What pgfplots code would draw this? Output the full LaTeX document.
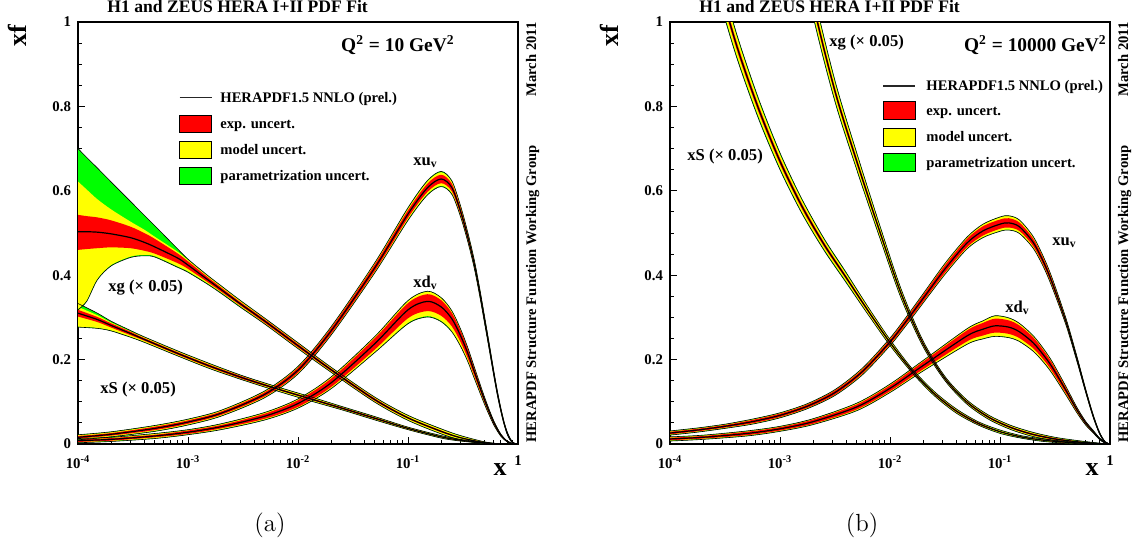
\documentclass[border=0pt]{standalone}
\usepackage{fontspec}
\usepackage{pgfplots}
\pgfplotsset{compat=1.18}
\usepackage{pgfplotstable}
\usepgfplotslibrary{fillbetween}
\newfontfamily\rf{Liberation Serif}
\definecolor{pred}{RGB}{255,0,0}
\definecolor{pyel}{RGB}{255,255,0}
\definecolor{pgrn}{RGB}{0,255,0}
\newcommand\tkfont{\rf\bfseries\fontsize{7.4}{8}\selectfont}
\newcommand\labfont{\rf\bfseries\fontsize{8.3}{10}\selectfont}
\newcommand\legfont{\rf\bfseries\fontsize{7.3}{9}\selectfont}
\newcommand\bigfont{\rf\bfseries\fontsize{13}{15}\selectfont}

\pgfplotstableread{
x c el eh ml mh tl th
0.0001 0.016 0.003 0.003 0.005 0.005 0.006 0.006
0.0002 0.023 0.003 0.003 0.005 0.005 0.006 0.006
0.0005 0.037 0.004 0.004 0.006 0.006 0.007 0.007
0.001 0.052 0.004 0.004 0.006 0.006 0.007 0.007
0.002 0.073 0.004 0.004 0.006 0.006 0.007 0.007
0.005 0.118 0.005 0.005 0.007 0.007 0.008 0.008
0.01 0.175 0.006 0.006 0.008 0.008 0.009 0.009
0.02 0.268 0.007 0.007 0.009 0.009 0.010 0.010
0.05 0.418 0.008 0.008 0.011 0.011 0.012 0.012
0.1 0.545 0.009 0.009 0.013 0.013 0.015 0.015
0.15 0.607 0.010 0.010 0.015 0.015 0.017 0.017
0.2 0.628 0.010 0.010 0.016 0.016 0.018 0.018
0.25 0.608 0.009 0.009 0.014 0.014 0.016 0.016
0.3 0.552 0.008 0.008 0.012 0.012 0.013 0.013
0.35 0.490 0.007 0.007 0.010 0.010 0.011 0.011
0.4 0.427 0.006 0.006 0.009 0.009 0.010 0.010
0.45 0.358 0.005 0.005 0.008 0.008 0.009 0.009
0.5 0.290 0.005 0.005 0.007 0.007 0.008 0.008
0.55 0.228 0.004 0.004 0.006 0.006 0.007 0.007
0.6 0.170 0.004 0.004 0.005 0.005 0.006 0.006
0.65 0.120 0.003 0.003 0.004 0.004 0.005 0.005
0.7 0.080 0.003 0.003 0.004 0.004 0.004 0.004
0.75 0.048 0.002 0.002 0.003 0.003 0.003 0.003
0.8 0.025 0.002 0.002 0.002 0.002 0.003 0.003
0.85 0.011 0.001 0.001 0.001 0.001 0.002 0.002
0.9 0.003 0.001 0.001 0.001 0.001 0.001 0.001
0.95 0.0005 0 0 0 0 0 0
1 0 0 0 0 0 0 0
}\xuvA
\pgfplotstableread{
x c el eh ml mh tl th
0.0001 0.008 0.003 0.003 0.004 0.004 0.005 0.005
0.0002 0.011 0.003 0.003 0.004 0.004 0.005 0.005
0.0005 0.019 0.003 0.003 0.005 0.005 0.006 0.006
0.001 0.028 0.004 0.004 0.005 0.005 0.006 0.006
0.002 0.041 0.004 0.004 0.006 0.006 0.007 0.007
0.005 0.066 0.006 0.006 0.008 0.008 0.009 0.009
0.01 0.096 0.008 0.008 0.010 0.010 0.011 0.011
0.02 0.145 0.010 0.010 0.013 0.013 0.014 0.014
0.05 0.238 0.014 0.013 0.020 0.016 0.021 0.017
0.1 0.318 0.020 0.016 0.031 0.021 0.033 0.022
0.15 0.338 0.023 0.017 0.035 0.023 0.037 0.024
0.2 0.325 0.021 0.016 0.033 0.021 0.035 0.022
0.25 0.297 0.018 0.014 0.029 0.018 0.031 0.019
0.3 0.257 0.015 0.012 0.024 0.015 0.025 0.016
0.35 0.215 0.012 0.010 0.019 0.012 0.020 0.013
0.4 0.172 0.010 0.008 0.015 0.010 0.016 0.011
0.5 0.102 0.006 0.005 0.009 0.006 0.010 0.007
0.6 0.052 0.004 0.003 0.005 0.004 0.006 0.004
0.7 0.021 0.002 0.002 0.003 0.002 0.003 0.002
0.8 0.006 0.001 0.001 0.001 0.001 0.001 0.001
0.9 0.001 0 0 0 0 0 0
1 0 0 0 0 0 0 0
}\xdvA
\pgfplotstableread{
x c el eh ml mh tl th
0.0001 0.503 0.043 0.040 0.183 0.119 0.185 0.197
0.00012 0.503 0.041 0.037 0.163 0.100 0.165 0.176
0.00015 0.502 0.038 0.035 0.111 0.078 0.113 0.152
0.0002 0.498 0.032 0.032 0.074 0.058 0.076 0.123
0.0003 0.489 0.025 0.026 0.045 0.038 0.047 0.086
0.0004 0.478 0.020 0.022 0.030 0.030 0.032 0.064
0.0005 0.467 0.016 0.019 0.022 0.024 0.024 0.050
0.0008 0.441 0.012 0.011 0.020 0.015 0.022 0.022
0.001 0.424 0.009 0.009 0.015 0.012 0.017 0.014
0.0015 0.390 0.006 0.006 0.009 0.009 0.011 0.010
0.002 0.366 0.005 0.005 0.007 0.008 0.009 0.009
0.003 0.332 0.004 0.004 0.006 0.007 0.008 0.008
0.005 0.291 0.004 0.004 0.006 0.006 0.007 0.007
0.01 0.233 0.004 0.004 0.006 0.006 0.007 0.007
0.02 0.176 0.003 0.003 0.005 0.005 0.006 0.006
0.05 0.105 0.003 0.003 0.005 0.005 0.006 0.006
0.1 0.062 0.002 0.002 0.005 0.005 0.006 0.006
0.2 0.030 0.002 0.002 0.005 0.005 0.006 0.006
0.3 0.015 0.001 0.001 0.004 0.004 0.005 0.005
0.5 0.003 0.001 0.001 0.002 0.002 0.002 0.002
0.7 0.0004 0 0 0 0 0 0
1 0 0 0 0 0 0 0
}\xgA
\pgfplotstableread{
x c el eh ml mh tl th
0.0001 0.310 0.008 0.008 0.032 0.015 0.033 0.023
0.00015 0.295 0.006 0.006 0.020 0.010 0.021 0.015
0.0002 0.281 0.005 0.005 0.012 0.007 0.013 0.010
0.0003 0.262 0.004 0.004 0.008 0.005 0.009 0.007
0.0004 0.248 0.003 0.003 0.006 0.005 0.007 0.006
0.0008 0.215 0.003 0.003 0.005 0.005 0.006 0.006
0.0016 0.184 0.003 0.003 0.005 0.005 0.006 0.006
0.0032 0.156 0.003 0.003 0.004 0.004 0.005 0.005
0.0064 0.131 0.002 0.002 0.004 0.004 0.005 0.005
0.013 0.107 0.002 0.002 0.004 0.004 0.005 0.005
0.025 0.085 0.002 0.002 0.003 0.003 0.004 0.004
0.05 0.061 0.002 0.002 0.003 0.003 0.004 0.004
0.1 0.037 0.001 0.001 0.003 0.003 0.003 0.003
0.2 0.017 0.001 0.001 0.002 0.002 0.003 0.003
0.3 0.009 0.001 0.001 0.002 0.002 0.002 0.002
0.5 0.0025 0 0 0.001 0.001 0.001 0.001
0.7 0.0004 0 0 0 0 0 0
1 0 0 0 0 0 0 0
}\xSA
\pgfplotstableread{
x c el eh ml mh tl th
0.0001 0.026 0.003 0.003 0.004 0.004 0.005 0.005
0.0001778 0.0331 0.003 0.003 0.004 0.004 0.005 0.005
0.0003162 0.042 0.003 0.003 0.004 0.004 0.005 0.005
0.0005623 0.0531 0.004 0.004 0.005 0.005 0.006 0.006
0.001 0.068 0.004 0.004 0.005 0.005 0.006 0.006
0.001778 0.0898 0.004 0.004 0.005 0.005 0.006 0.006
0.003162 0.122 0.005 0.005 0.006 0.006 0.007 0.007
0.005623 0.172 0.005 0.005 0.007 0.007 0.008 0.008
0.01 0.242 0.006 0.006 0.008 0.008 0.009 0.009
0.01413 0.292 0.007 0.007 0.009 0.009 0.010 0.010
0.02 0.345 0.008 0.008 0.010 0.010 0.011 0.011
0.03162 0.415 0.009 0.009 0.012 0.012 0.013 0.013
0.05 0.476 0.010 0.010 0.013 0.013 0.014 0.014
0.07 0.505 0.011 0.011 0.015 0.015 0.016 0.016
0.1 0.521 0.011 0.011 0.016 0.016 0.017 0.017
0.12 0.524 0.011 0.011 0.016 0.016 0.017 0.017
0.15 0.515 0.010 0.010 0.015 0.015 0.016 0.016
0.2 0.478 0.009 0.009 0.013 0.013 0.014 0.014
0.25 0.430 0.008 0.008 0.011 0.011 0.012 0.012
0.3 0.380 0.007 0.007 0.010 0.010 0.011 0.011
0.4 0.288 0.005 0.005 0.007 0.007 0.008 0.008
0.5 0.202 0.004 0.004 0.005 0.005 0.006 0.006
0.6 0.127 0.003 0.003 0.004 0.004 0.004 0.004
0.7 0.068 0.002 0.002 0.003 0.003 0.003 0.003
0.8 0.027 0.001 0.001 0.001 0.001 0.002 0.002
0.9 0.005 0 0 0 0 0.001 0.001
1 0 0 0 0 0 0 0
}\xuvB
\pgfplotstableread{
x c el eh ml mh tl th
0.0001 0.012 0.003 0.003 0.004 0.004 0.005 0.005
0.0002 0.016 0.003 0.003 0.004 0.004 0.005 0.005
0.0005 0.025 0.004 0.004 0.005 0.005 0.006 0.006
0.001 0.036 0.004 0.004 0.005 0.005 0.006 0.006
0.002 0.053 0.005 0.005 0.006 0.006 0.007 0.007
0.005 0.088 0.006 0.006 0.008 0.008 0.009 0.009
0.01 0.132 0.007 0.007 0.009 0.009 0.010 0.010
0.02 0.186 0.009 0.009 0.012 0.011 0.013 0.012
0.05 0.256 0.013 0.013 0.019 0.016 0.020 0.017
0.07 0.272 0.015 0.015 0.022 0.019 0.023 0.020
0.09 0.280 0.016 0.017 0.024 0.023 0.025 0.024
0.12 0.277 0.016 0.016 0.024 0.021 0.025 0.022
0.15 0.266 0.015 0.015 0.022 0.019 0.023 0.020
0.2 0.240 0.013 0.013 0.019 0.016 0.020 0.017
0.25 0.210 0.011 0.011 0.016 0.014 0.017 0.015
0.3 0.181 0.010 0.009 0.014 0.012 0.015 0.013
0.4 0.126 0.007 0.006 0.010 0.008 0.011 0.009
0.5 0.081 0.004 0.004 0.007 0.005 0.007 0.006
0.6 0.050 0.003 0.003 0.004 0.003 0.005 0.004
0.7 0.030 0.002 0.002 0.003 0.002 0.003 0.003
0.8 0.013 0.001 0.001 0.001 0.001 0.002 0.002
0.9 0.003 0 0 0 0 0.001 0.001
1 0 0 0 0 0 0 0
}\xdvB
\pgfplotstableread{
x c el eh ml mh tl th
0.001259 1.31 0.013 0.013 0.031 0.031 0.039 0.039
0.001995 1.046 0.010 0.010 0.025 0.025 0.031 0.031
0.003162 0.836 0.008 0.008 0.020 0.020 0.025 0.025
0.005012 0.668 0.007 0.007 0.016 0.016 0.020 0.020
0.007943 0.509 0.005 0.005 0.012 0.012 0.015 0.015
0.01259 0.357 0.004 0.004 0.009 0.009 0.011 0.011
0.01995 0.238 0.003 0.003 0.006 0.006 0.007 0.007
0.03162 0.155 0.002 0.002 0.004 0.004 0.005 0.005
0.05012 0.0993 0.002 0.002 0.004 0.004 0.005 0.005
0.07943 0.063 0.002 0.002 0.004 0.004 0.005 0.005
0.1259 0.039 0.002 0.002 0.004 0.004 0.005 0.005
0.1995 0.0227 0.002 0.002 0.004 0.004 0.005 0.005
0.3162 0.012 0.002 0.002 0.003 0.003 0.004 0.004
0.5012 0.0054 0.001 0.001 0.002 0.002 0.003 0.003
0.7943 0.0012 0 0 0.0005 0.0005 0.001 0.001
1 0 0 0 0 0 0 0
}\xgB
\pgfplotstableread{
x c el eh ml mh tl th
0.0002512 1.13 0.011 0.011 0.027 0.027 0.034 0.034
0.0003981 0.949 0.009 0.009 0.023 0.023 0.028 0.028
0.000631 0.798 0.008 0.008 0.019 0.019 0.024 0.024
0.001 0.670 0.007 0.007 0.016 0.016 0.020 0.020
0.001585 0.563 0.006 0.006 0.014 0.014 0.017 0.017
0.002512 0.473 0.005 0.005 0.011 0.011 0.014 0.014
0.003981 0.395 0.004 0.004 0.009 0.009 0.012 0.012
0.00631 0.316 0.003 0.003 0.008 0.008 0.009 0.009
0.01 0.2405 0.002 0.002 0.006 0.006 0.007 0.007
0.01585 0.174 0.002 0.002 0.004 0.004 0.005 0.005
0.02512 0.120 0.002 0.002 0.004 0.004 0.005 0.005
0.03981 0.0787 0.002 0.002 0.004 0.004 0.005 0.005
0.0631 0.0491 0.002 0.002 0.003 0.003 0.004 0.004
0.1 0.0292 0.001 0.001 0.003 0.003 0.004 0.004
0.1585 0.0165 0.001 0.001 0.002 0.002 0.003 0.003
0.2512 0.0089 0.001 0.001 0.002 0.002 0.003 0.003
0.3981 0.0042 0.001 0.001 0.002 0.002 0.002 0.002
0.631 0.0012 0 0 0.0005 0.0005 0.001 0.001
1 0 0 0 0 0 0 0
}\xSB

\newcommand\band[2]{%
 \addplot[black, line width=0.3pt, smooth, name path=#2tl, forget plot] table[x=x, y expr=\thisrow{c}-\thisrow{tl}] {#1};
 \addplot[black, line width=0.3pt, smooth, name path=#2th, forget plot] table[x=x, y expr=\thisrow{c}+\thisrow{th}] {#1};
 \addplot[draw=none, smooth, name path=#2ml, forget plot] table[x=x, y expr=\thisrow{c}-\thisrow{ml}] {#1};
 \addplot[draw=none, smooth, name path=#2mh, forget plot] table[x=x, y expr=\thisrow{c}+\thisrow{mh}] {#1};
 \addplot[draw=none, smooth, name path=#2el, forget plot] table[x=x, y expr=\thisrow{c}-\thisrow{el}] {#1};
 \addplot[draw=none, smooth, name path=#2eh, forget plot] table[x=x, y expr=\thisrow{c}+\thisrow{eh}] {#1};
 \addplot[fill=pgrn, draw=none, forget plot] fill between[of=#2th and #2tl];
 \addplot[fill=pyel, draw=none, forget plot] fill between[of=#2mh and #2ml];
 \addplot[fill=pred, draw=none, forget plot] fill between[of=#2eh and #2el];
 \addplot[black, line width=0.6pt, smooth, forget plot] table[x=x, y=c] {#1};
}

\begin{document}
\begin{tikzpicture}
\begin{axis}[at={(39pt,-222pt)},
  xmode=log, xmin=1e-4, xmax=1, ymin=0, ymax=1,
  scale only axis, width=220pt, height=211pt, anchor=south west,
  tick align=inside, tick pos=left,
  xtick={1e-4,1e-3,1e-2,1e-1,1},
  xticklabels={10\textsuperscript{-4},10\textsuperscript{-3},10\textsuperscript{-2},10\textsuperscript{-1},1},
  minor xtick={2e-4,3e-4,4e-4,5e-4,6e-4,7e-4,8e-4,9e-4,2e-3,3e-3,4e-3,5e-3,6e-3,7e-3,8e-3,9e-3,0.02,0.03,0.04,0.05,0.06,0.07,0.08,0.09,0.2,0.3,0.4,0.5,0.6,0.7,0.8,0.9},
  ytick={0,0.2,0.4,0.6,0.8,1},
  yticklabels={0,0.2,0.4,0.6,0.8,1},
  minor y tick num=3,
  major tick length=3.6pt, minor tick length=1.8pt,
  axis line style={line width=0.8pt},
  every tick/.append style={line width=0.5pt, black},
  tick label style={font=\tkfont},
  xticklabel style={yshift=-2.5pt}]
 \band{\xSA}{sA}
 \band{\xgA}{gA}
 \band{\xdvA}{dA}
 \band{\xuvA}{uA}
\end{axis}
\begin{axis}[at={(335pt,-222pt)},
  xmode=log, xmin=1e-4, xmax=1, ymin=0, ymax=1,
  scale only axis, width=220pt, height=211pt, anchor=south west,
  tick align=inside, tick pos=left,
  xtick={1e-4,1e-3,1e-2,1e-1,1},
  xticklabels={10\textsuperscript{-4},10\textsuperscript{-3},10\textsuperscript{-2},10\textsuperscript{-1},1},
  minor xtick={2e-4,3e-4,4e-4,5e-4,6e-4,7e-4,8e-4,9e-4,2e-3,3e-3,4e-3,5e-3,6e-3,7e-3,8e-3,9e-3,0.02,0.03,0.04,0.05,0.06,0.07,0.08,0.09,0.2,0.3,0.4,0.5,0.6,0.7,0.8,0.9},
  ytick={0,0.2,0.4,0.6,0.8,1},
  yticklabels={0,0.2,0.4,0.6,0.8,1},
  minor y tick num=3,
  major tick length=3.6pt, minor tick length=1.8pt,
  axis line style={line width=0.8pt},
  every tick/.append style={line width=0.5pt, black},
  tick label style={font=\tkfont},
  xticklabel style={yshift=-2.5pt}]
 \band{\xSB}{sB}
 \band{\xgB}{gB}
 \band{\xdvB}{dB}
 \band{\xuvB}{uB}
\end{axis}
\begin{scope}[x=0.5pt,y=-0.5pt]
 \node[anchor=base west, inner sep=0pt, font=\rf\bfseries\fontsize{8.8}{10}\selectfont] at (107,12.5) {H1 and ZEUS HERA I+II PDF Fit};
 \node[anchor=base west, inner sep=0pt, font=\rf\bfseries\fontsize{8.8}{10}\selectfont] at (699,12.5) {H1 and ZEUS HERA I+II PDF Fit};
 \node[rotate=90, inner sep=0pt, font=\bigfont] at (17,36) {xf};
 \node[rotate=90, inner sep=0pt, font=\bigfont] at (609,36) {xf};
 \node[inner sep=0pt, font=\bigfont] at (500,470) {x};
 \node[inner sep=0pt, font=\bigfont] at (1092,470) {x};
 \node[rotate=90, anchor=base east, inner sep=0pt, font=\legfont] at (536,22) {March 2011};
 \node[rotate=90, anchor=base west, inner sep=0pt, font=\legfont] at (536,443) {HERAPDF Structure Function Working Group};
 \node[rotate=90, anchor=base east, inner sep=0pt, font=\legfont] at (1128,22) {March 2011};
 \node[rotate=90, anchor=base west, inner sep=0pt, font=\legfont] at (1128,443) {HERAPDF Structure Function Working Group};
 \node[anchor=base east, inner sep=0pt, font=\rf\bfseries\fontsize{9.7}{11}\selectfont] at (455,51.5) {Q\textsuperscript{2} = 10 GeV\textsuperscript{2}};
 \node[anchor=base east, inner sep=0pt, font=\rf\bfseries\fontsize{9.7}{11}\selectfont] at (1107,51.5) {Q\textsuperscript{2} = 10000 GeV\textsuperscript{2}};
 \node[anchor=base west, inner sep=0pt, font=\labfont] at (108,291.5) {xg (× 0.05)};
 \node[anchor=base west, inner sep=0pt, font=\labfont] at (100,393) {xS (× 0.05)};
 \node[anchor=base west, inner sep=0pt, font=\labfont] at (413,165) {xu\textsubscript{v}};
 \node[anchor=base west, inner sep=0pt, font=\labfont] at (413,287) {xd\textsubscript{v}};
 \node[anchor=base west, inner sep=0pt, font=\labfont] at (829,46) {xg (× 0.05)};
 \node[anchor=base west, inner sep=0pt, font=\labfont] at (687,160) {xS (× 0.05)};
 \node[anchor=base west, inner sep=0pt, font=\labfont] at (1052,245) {xu\textsubscript{v}};
 \node[anchor=base west, inner sep=0pt, font=\labfont] at (1005,312) {xd\textsubscript{v}};
 \draw[black!85, line width=0.6pt] (179.5,97.7) -- (211.5,97.7);
 \draw[fill=pred, line width=0.4pt] (179.5,115) rectangle (211.5,132.7);
 \draw[fill=pyel, line width=0.4pt] (179.5,141) rectangle (211.5,158.7);
 \draw[fill=pgrn, line width=0.4pt] (179.5,167) rectangle (211.5,184.7);
 \node[anchor=base west, inner sep=0pt, font=\legfont] at (220,102.5) {HERAPDF1.5 NNLO (prel.)};
 \node[anchor=base west, inner sep=0pt, font=\legfont] at (220,128.6) {exp. uncert.};
 \node[anchor=base west, inner sep=0pt, font=\legfont] at (220,154.6) {model uncert.};
 \node[anchor=base west, inner sep=0pt, font=\legfont] at (220,180.6) {parametrization uncert.};
 \draw[black!85, line width=0.6pt] (883,86) -- (915,86);
 \draw[fill=pred, line width=0.4pt] (883,101.7) rectangle (915,119.4);
 \draw[fill=pyel, line width=0.4pt] (883,128.3) rectangle (915,146);
 \draw[fill=pgrn, line width=0.4pt] (883,153.6) rectangle (915,171.3);
 \node[anchor=base west, inner sep=0pt, font=\legfont] at (926,90.8) {HERAPDF1.5 NNLO (prel.)};
 \node[anchor=base west, inner sep=0pt, font=\legfont] at (926,115.3) {exp. uncert.};
 \node[anchor=base west, inner sep=0pt, font=\legfont] at (926,141.9) {model uncert.};
 \node[anchor=base west, inner sep=0pt, font=\legfont] at (926,167.2) {parametrization uncert.};
 \node[inner sep=0pt, font=\fontsize{12.4}{14}\selectfont] at (270,525) {(a)};
 \node[inner sep=0pt, font=\fontsize{12.4}{14}\selectfont] at (862,525) {(b)};
\end{scope}
\pgfresetboundingbox
\path[use as bounding box] (0,0) rectangle (568pt,-277pt);
\end{tikzpicture}
\end{document}
